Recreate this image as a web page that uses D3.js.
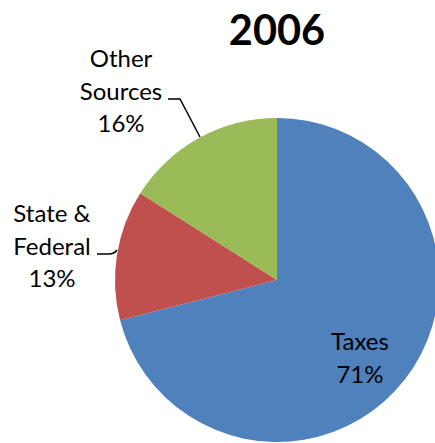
<!DOCTYPE html>
<html><head><meta charset="utf-8">
<script src="https://cdn.jsdelivr.net/npm/d3@7"></script>
<style>body{margin:0;background:#fff}svg{display:block}</style>
</head><body><svg id="c" width="435" height="443"></svg>
<script>
const title = "2006";
const categories = ["Taxes", "State & Federal", "Other Sources"];
const labelLines = [["Taxes"], ["State &", "Federal"], ["Other", "Sources"]];
const values = [71, 13, 16];
const colors = ["#4F81BD", "#C0504D", "#9BBB59"];

const svg = d3.select("#c");
const cx = 277, cy = 280, r = 162;
const font = "Lato, 'Open Sans', sans-serif";

svg.append("text").attr("x", 277).attr("y", 45).attr("text-anchor", "middle")
  .attr("font-family", font).attr("font-weight", 700).attr("font-size", 41.5)
  .attr("fill", "#000").text(title);

const pie = d3.pie().sort(null).value(d => d)(values);
const arc = d3.arc().innerRadius(0).outerRadius(r);
const g = svg.append("g").attr("transform", `translate(${cx},${cy})`);
g.selectAll("path").data(pie).join("path")
  .attr("d", arc).attr("fill", (d, i) => colors[i]);

const total = d3.sum(values);
const pct = values.map(v => Math.round(v / total * 100) + "%");
const lab = [
  {x: 83, y: 70},
  {x: -225, y: -58},
  {x: -156, y: -213}
];
const lh = 32.5;
labelLines.forEach((lines, i) => {
  const t = g.append("text").attr("text-anchor", "middle")
    .attr("font-family", font).attr("font-size", 24).attr("fill", "#000");
  lines.concat([pct[i]]).forEach((s, k) => {
    t.append("tspan").attr("x", lab[i].x).attr("y", lab[i].y + k * lh).text(s);
  });
});

const line = d3.line().curve(d3.curveLinear);
g.append("path").attr("fill", "none").attr("stroke", "#000").attr("stroke-width", 1.5)
  .attr("d", line([[-109, -181], [-97, -181], [-77, -143]]));
g.append("path").attr("fill", "none").attr("stroke", "#000").attr("stroke-width", 1.5)
  .attr("d", "M-180,-26 L-168,-26 Q-163,-26 -160,-30");
</script></body></html>
